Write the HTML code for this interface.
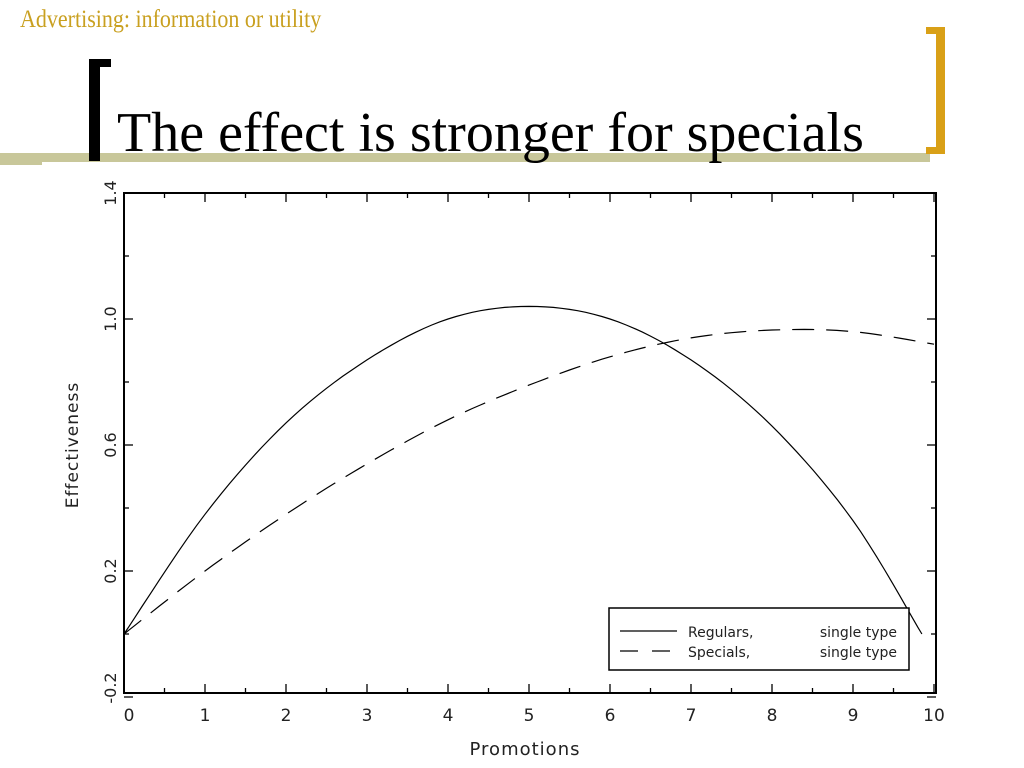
<!DOCTYPE html>
<html><head><meta charset="utf-8"><style>
body{margin:0;width:1024px;height:768px;background:#fff;overflow:hidden;position:relative;font-family:"Liberation Serif",serif}
.abs{position:absolute}
</style></head><body>
<div class="abs" style="left:20px;top:6px;font-size:25px;color:#c9a020;white-space:nowrap;transform:scaleX(0.88);transform-origin:left top">Advertising: information or utility</div>
<div class="abs" style="left:0;top:153px;width:930px;height:9px;background:#c8c79a"></div>
<div class="abs" style="left:0;top:160px;width:42px;height:5px;background:#c8c79a"></div>
<div class="abs" style="left:89px;top:59px;width:11px;height:102px;background:#000"></div>
<div class="abs" style="left:89px;top:59px;width:22px;height:8px;background:#000"></div>
<div class="abs" style="left:936px;top:27px;width:9px;height:127px;background:#d9a017"></div>
<div class="abs" style="left:926px;top:27px;width:19px;height:7px;background:#d9a017"></div>
<div class="abs" style="left:926px;top:147px;width:19px;height:7px;background:#d9a017"></div>
<div class="abs" style="left:117px;top:98px;font-size:56px;color:#000;line-height:70px;white-space:nowrap">The effect is stronger for specials</div>
<svg class="abs" style="left:0;top:0" width="1024" height="768">
<g id="g"></g>
</svg>
<script>
const xTicks=[0,1,2,3,4,5,6,7,8,9,10];
const yTicks=[1.4,1.0,0.6,0.2,-0.2];
const yTickLabels=["1.4","1.0","0.6","0.2","-0.2"];
const regX=[0,1,2,3,4,5,6,7,8,9,9.85];
const regY=[0.0,0.38,0.67,0.87,1.0,1.04,1.0,0.87,0.66,0.36,0.0];
const speX=[0,1,2,3,4,5,6,7,8,9,10];
const speY=[0.0,0.2,0.38,0.54,0.68,0.79,0.88,0.94,0.965,0.96,0.92];
const L=124,R=936,T=193,B=693;
const sx=v=>L+(v-0)/10*(R-L-2);
const sy=v=>T+(1.4-v)*315;
const NS="http://www.w3.org/2000/svg",g=document.getElementById('g');
function mk(t,a){const e=document.createElementNS(NS,t);for(const k in a)e.setAttribute(k,a[k]);g.appendChild(e);return e;}
let e=mk('rect',{x:L,y:T,width:R-L,height:B-T,fill:'none',stroke:'#000','stroke-width':2});


for(let i=0;i<=20;i++){const v=i/2,x=sx(v),len=i%2?5:9;
 mk('line',{x1:x,y1:B,x2:x,y2:B-len,stroke:'#000','stroke-width':1.3});
 mk('line',{x1:x,y1:T,x2:x,y2:T+len,stroke:'#000','stroke-width':1.3});}
xTicks.forEach(v=>{const t=mk('text',{x:sx(v)+(v==0?5:0),y:721,'text-anchor':'middle','font-size':17,'font-family':'DejaVu Sans, sans-serif',fill:'#222'});t.textContent=v;

});
for(let i=0;i<=8;i++){const v=1.4-i*0.2,y=sy(v),len=i%2?5:9;
 mk('line',{x1:L,y1:y,x2:L+len,y2:y,stroke:'#000','stroke-width':1.3});
 mk('line',{x1:R,y1:y,x2:R-len,y2:y,stroke:'#000','stroke-width':1.3});}
yTicks.forEach((v,i)=>{const y=Math.min(sy(v),688);const t=mk('text',{x:0,y:0,transform:`translate(116,${y}) rotate(-90)`,'text-anchor':'middle','font-size':16,'font-family':'DejaVu Sans, sans-serif',fill:'#222'});t.textContent=yTickLabels[i];

});
let t=mk('text',{x:0,y:0,transform:'translate(78,445) rotate(-90)','text-anchor':'middle','font-size':17,'font-family':'DejaVu Sans, sans-serif',fill:'#222','letter-spacing':1});t.textContent='Effectiveness';


t=mk('text',{x:525,y:755,'text-anchor':'middle','font-size':18,'font-family':'DejaVu Sans, sans-serif',fill:'#222','letter-spacing':1});t.textContent='Promotions';


function path(xs,ys){let p=[];for(let i=0;i<xs.length-1;i++){const n=10;for(let k=0;k<n;k++){const u=k/n;const i0=Math.max(0,i-1),i3=Math.min(xs.length-1,i+2);
const c=(a,b,c2,d)=>0.5*((2*b)+(-a+c2)*u+(2*a-5*b+4*c2-d)*u*u+(-a+3*b-3*c2+d)*u*u*u);
p.push([sx(c(xs[i0],xs[i],xs[i+1],xs[i3])),sy(c(ys[i0],ys[i],ys[i+1],ys[i3]))]);}}
p.push([sx(xs[xs.length-1]),sy(ys[ys.length-1])]);return 'M'+p.map(q=>q[0].toFixed(1)+','+q[1].toFixed(1)).join('L');}
e=mk('path',{d:path(regX,regY),fill:'none',stroke:'#000','stroke-width':1.2});


e=mk('path',{d:path(speX,speY),fill:'none',stroke:'#000','stroke-width':1.2,'stroke-dasharray':'22,12'});


e=mk('rect',{x:609,y:608,width:300,height:62,fill:'#fff',stroke:'#000','stroke-width':1.5});


mk('line',{x1:620,y1:631,x2:677,y2:631,stroke:'#000','stroke-width':1.3});
mk('line',{x1:620,y1:651,x2:677,y2:651,stroke:'#000','stroke-width':1.3,'stroke-dasharray':'18,14'});
[['Regulars,',637,'legend-regulars'],['Specials,',657,'legend-specials']].forEach(a=>{
 let t1=mk('text',{x:688,y:a[1],'font-size':14,'font-family':'DejaVu Sans, sans-serif',fill:'#222'});t1.textContent=a[0];
 
 
 let t2=mk('text',{x:897,y:a[1],'text-anchor':'end','font-size':14,'font-family':'DejaVu Sans, sans-serif',fill:'#222'});t2.textContent='single type';
 
 });
</script>
</body></html>
